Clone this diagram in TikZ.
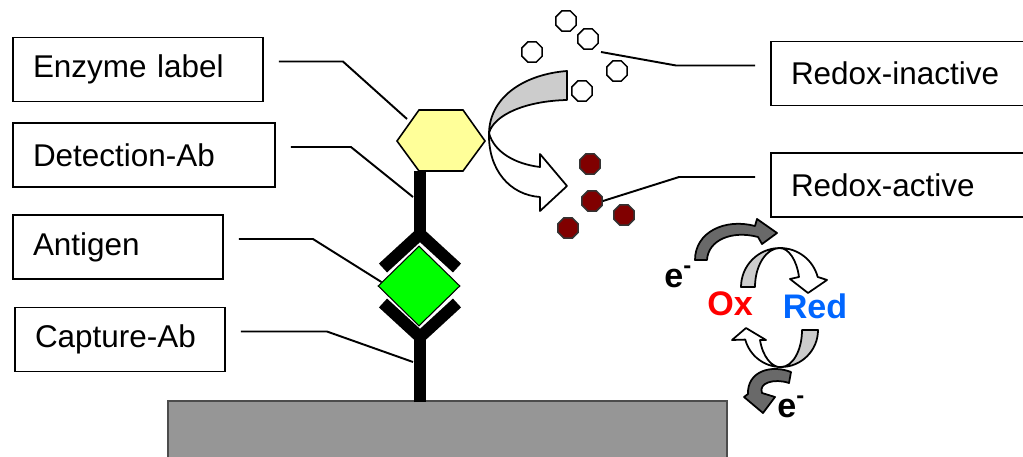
\documentclass[tikz,border=0pt]{standalone}
\usepackage{fontspec}
\setmainfont{Liberation Sans}
\usetikzlibrary{shapes.geometric}

\definecolor{enzyme}{RGB}{255,255,153}
\definecolor{antigen}{RGB}{0,255,0}
\definecolor{active}{RGB}{128,0,0}
\definecolor{bandgray}{RGB}{204,204,204}
\definecolor{electron}{RGB}{105,105,105}
\definecolor{surface}{RGB}{150,150,150}
\definecolor{oxred}{RGB}{255,0,0}
\definecolor{redblue}{RGB}{0,102,255}

\begin{document}
\begin{tikzpicture}[x=0.02cm, y=-0.02cm,
  labelbox/.style={draw, line width=1.1pt, align=left, inner xsep=0.4cm,
    minimum height=1.28cm, font=\fontsize{17.9}{21}\selectfont},
  leader/.style={line width=1.1pt},
  ab/.style={line width=0.24cm, line cap=butt, line join=miter},
  band/.style={draw, line width=1pt, line join=round},
  octa/.style={regular polygon, regular polygon sides=8, minimum size=0.44cm,
    inner sep=0, line width=0.9pt},
  redox/.style={font=\bfseries\fontsize{19.4}{22}\selectfont, inner sep=0}]

  \useasboundingbox (0,0) rectangle (1023,456);

  % Electrode surface
  \draw[fill=surface, draw=black!70, line width=0.9pt] (168,401) rectangle (727,470);

  % Capture antibody
  \draw[ab] (420,402) -- (420,337);
  \draw[ab] (383,303) -- (420,337) -- (457,303);

  % Detection antibody
  \draw[ab] (420,171) -- (420,234);
  \draw[ab] (383,268) -- (420,234) -- (457,268);

  % Antigen
  \node[diamond, draw, line width=0.6pt, fill=antigen, minimum width=1.64cm,
    minimum height=1.6cm, inner sep=0] (ag) at (419,286) {};

  % Enzyme on top of the detection antibody
  \draw[fill=enzyme, line width=0.9pt] (397,141) -- (419,110) -- (463,110)
    -- (485,141) -- (463,171) -- (419,171) -- cycle;
  \coordinate (enzPt) at (407,119);
  \coordinate (detPt) at (413,197);
  \coordinate (capPt) at (413,362);

  % Labels on the left
  \node[labelbox, text width=4.2cm] (enz) at (138,69.5) {Enzyme label};
  \node[labelbox, text width=4.44cm] (det) at (144,155) {Detection-Ab};
  \node[labelbox, text width=3.4cm] (agl) at (118,247) {Antigen};
  \node[labelbox, text width=3.4cm] (cap) at (120,339.5) {Capture-Ab};

  \draw[leader] ([shift={(15,-8)}]enz.east) -- ++(64,0) -- (enzPt);
  \draw[leader] ([shift={(15,-8)}]det.east) -- ++(60,0) -- (detPt);
  \draw[leader] ([shift={(15,-8)}]agl.east) -- ++(74,0) -- (ag.174);
  \draw[leader] ([shift={(15,-8)}]cap.east) -- ++(86,0) -- (capPt);

  % Substrate turned over by the enzyme
  \draw[band, fill=bandgray] (567,71) .. controls (527,74) and (490,95) .. (489,133)
    .. controls (494,115) and (525,101) .. (567,100) -- cycle;
  \draw[band, fill=white] (489,133) .. controls (488,170) and (510,195) .. (540,197)
    -- (540,211) -- (567,186) -- (540,154) -- (540,167)
    .. controls (515,164) and (494,152) .. (489,133) -- cycle;

  % Redox-inactive substrate
  \foreach \p [count=\i] in {(566,21),(588,39),(532,52),(617,71),(582,91)}
    \node[octa, draw, fill=white] (in\i) at \p {};
  \coordinate (inPt) at (601,52);

  % Redox-active product
  \foreach \p [count=\i] in {(590,164),(592,201),(624,215),(568,228)}
    \node[octa, draw=black!80, fill=active] (ac\i) at \p {};

  % Labels on the right
  \node[labelbox, text width=4.38cm] (inact) at (900.5,73.5) {Redox-inactive};
  \node[labelbox, text width=4.38cm] (act) at (900.5,185) {Redox-active};

  \draw[leader] ([shift={(-15,-8)}]inact.west) -- ++(-79,0) -- (inPt);
  \draw[leader] ([shift={(-15,-8)}]act.west) -- ++(-76,0) -- (ac2.east);

  % Redox cycling
  \draw[band, fill=bandgray] (741,287) arc[start angle=180, end angle=270, radius=39]
    arc[start angle=270, end angle=180, x radius=25, y radius=39] -- cycle;
  \draw[band, fill=white] (780,248) arc[start angle=270, end angle=345, radius=39]
    -- (827,280) -- (808,293) -- (790,279) -- (799,277)
    arc[start angle=345, end angle=270, x radius=20, y radius=39] -- cycle;
  \draw[band, fill=bandgray] (818,330) arc[start angle=0, end angle=90, radius=37]
    arc[start angle=90, end angle=0, x radius=21, y radius=37] -- cycle;
  \draw[band, fill=white] (781,367) arc[start angle=90, end angle=165, radius=37]
    -- (732,340) -- (746,328) -- (766,340) -- (760,340)
    arc[start angle=165, end angle=90, x radius=22, y radius=37] -- cycle;

  % Electron transfer
  \draw[band, fill=electron] (695,260) .. controls (695,232) and (725,218) .. (755,226)
    -- (757,219) -- (777,233) -- (762,244) -- (758,237)
    .. controls (732,230) and (708,240) .. (707,260) -- cycle;
  \draw[band, fill=electron] (791,372) .. controls (770,364) and (747,372) .. (748,394)
    -- (744,397) -- (763,413) -- (775,397) -- (762,393)
    .. controls (758,383) and (774,378) .. (789,383) -- cycle;

  \node[redox, text=oxred, anchor=base] (ox) at (730,315) {Ox};
  \node[redox, text=redblue, anchor=base] (red) at (815,318) {Red};
  \node[redox, anchor=base west] (e1) at (664,287) {e\textsuperscript{-}};
  \node[redox, anchor=base west] (e2) at (777,417) {e\textsuperscript{-}};

\end{tikzpicture}
\end{document}
